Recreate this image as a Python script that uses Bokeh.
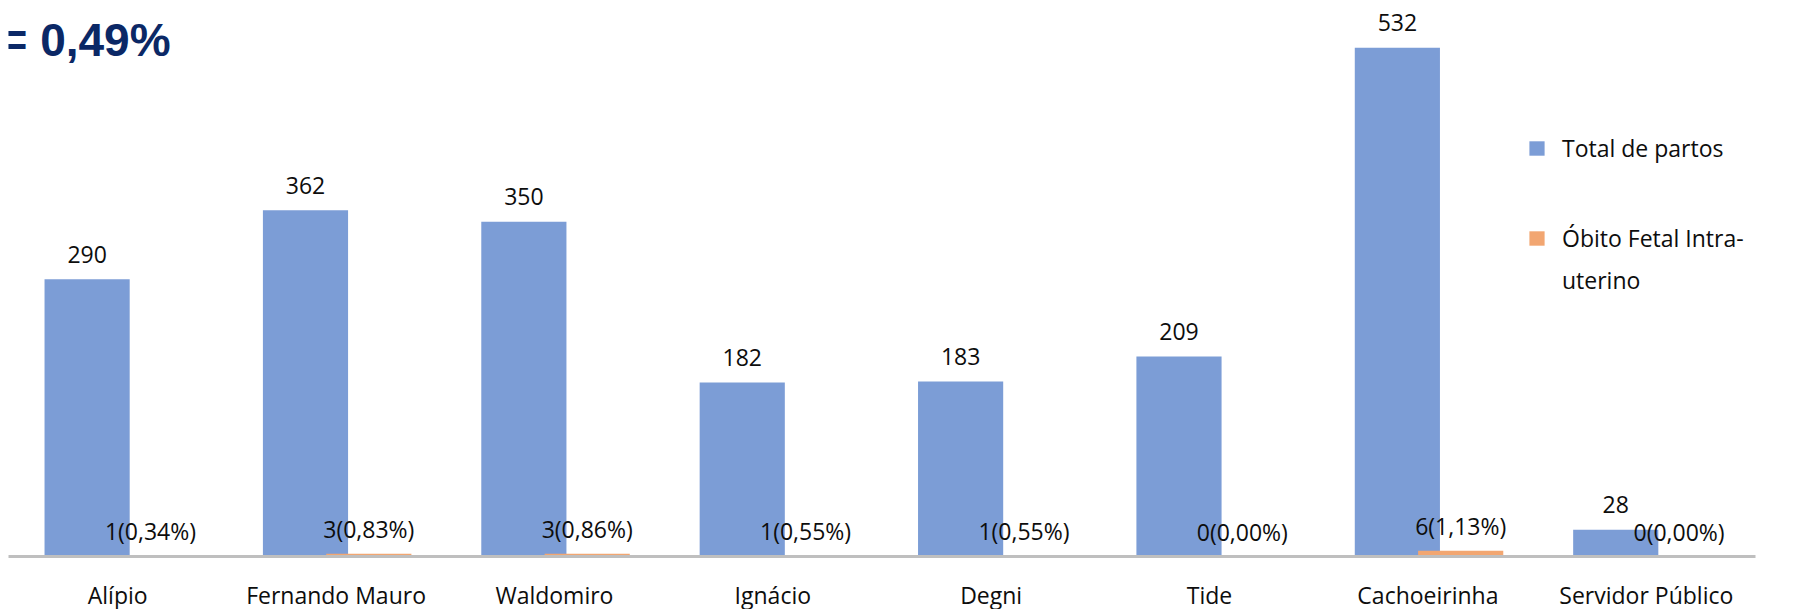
from bokeh.plotting import figure
from bokeh.models import (ColumnDataSource, FactorRange, Range1d, Label, Legend, LegendItem)
from bokeh.transform import dodge
from bokeh.core.properties import value
from bokeh.embed import file_html
from bokeh.resources import INLINE

categories = ["Alípio", "Fernando Mauro", "Waldomiro", "Ignácio", "Degni", "Tide",
              "Cachoeirinha", "Servidor Público"]
total_partos = [290, 362, 350, 182, 183, 209, 532, 28]
obitos = [1, 3, 3, 1, 1, 0, 6, 0]
series_names = ["Total de partos", "Óbito Fetal Intra-", "uterino"]
headline = "= 0,49%"

pct = [f"{(o / t * 100):.2f}".replace(".", ",") for o, t in zip(obitos, total_partos)]
ob_labels = [f"{o}({p}%)" for o, p in zip(obitos, pct)]

src = ColumnDataSource(dict(
    cat=categories,
    total=total_partos,
    total_lbl=[str(v) for v in total_partos],
    obito=obitos,
    obito_lbl=ob_labels,
))

FONT = "Open Sans"
BLUE = "#7C9DD6"
ORANGE = "#F2A671"
TXT = "#0D0D0D"

p = figure(frame_width=1747, frame_height=548, output_backend="svg", toolbar_location=None,
           x_range=FactorRange(*categories, range_padding=0),
           y_range=Range1d(0, 573),
           min_border_left=8, min_border_right=30, min_border_top=8, min_border_bottom=0)
p.outline_line_color = None
p.xgrid.visible = False
p.ygrid.visible = False
p.yaxis.visible = False

r1 = p.vbar(x=dodge("cat", -0.14, range=p.x_range), top="total", width=0.39,
            source=src, color=BLUE, line_color=None)
r2 = p.vbar(x=dodge("cat", 0.15, range=p.x_range), top="obito", width=0.39,
            source=src, color=ORANGE, line_color=None)
r_blank = p.scatter(x=[], y=[], alpha=0)

p.text(x=dodge("cat", -0.14, range=p.x_range), y="total", text="total_lbl", source=src,
       text_align="center", text_baseline="alphabetic", y_offset=-25,
       text_font=value(FONT), text_font_size="23px", text_color=TXT)
p.text(x=dodge("cat", 0.15, range=p.x_range), y="obito", text="obito_lbl", source=src,
       text_align="center", text_baseline="alphabetic", y_offset=-25,
       text_font=value(FONT), text_font_size="23px", text_color=TXT)

ax = p.xaxis[0]
ax.axis_line_color = "#BFBFBF"
ax.axis_line_width = 3
ax.major_tick_line_color = None
ax.minor_tick_line_color = None
ax.major_label_text_font = FONT
ax.major_label_text_font_size = "23px"
ax.major_label_text_color = TXT
ax.major_label_standoff = 16

common = dict(orientation="vertical", label_text_font=FONT, label_text_font_size="23px",
              label_text_color=TXT, glyph_width=19, glyph_height=18, padding=0, margin=0,
              border_line_color=None, background_fill_alpha=0, label_standoff=16)

legend1 = Legend(items=[LegendItem(label=series_names[0], renderers=[r1])],
                 location=(1519, 392), **common)
legend2 = Legend(items=[LegendItem(label=series_names[1], renderers=[r2]),
                        LegendItem(label=series_names[2], renderers=[r_blank])],
                 location=(1519, 260), spacing=10, **common)
p.add_layout(legend1)
p.add_layout(legend2)

title = Label(x=0, y=540, x_offset=-8, text=headline,
              text_font="Liberation Sans", text_font_style="bold",
              text_font_size="46px", text_color="#0B2866", text_baseline="middle")
p.add_layout(title)

open("out.html", "w").write(file_html(p, INLINE))
